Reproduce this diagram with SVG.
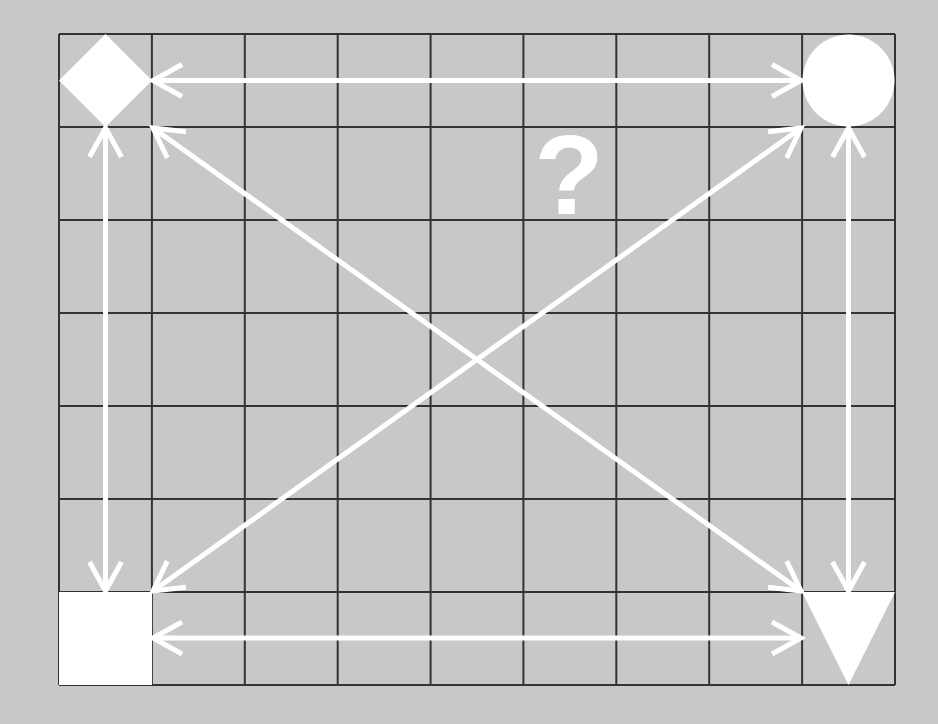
<svg xmlns="http://www.w3.org/2000/svg" width="938" height="724" viewBox="0 0 938 724">
<defs>
<style>
.grid line{stroke:#333;stroke-width:2}
.conn line{stroke:#fff;stroke-width:5;fill:none;marker-start:url(#ah);marker-end:url(#ah)}
.shape{fill:#fff}
</style>
<marker id="ah" markerUnits="userSpaceOnUse" markerWidth="40" markerHeight="40" viewBox="-34 -20 40 40" refX="0" refY="0" orient="auto-start-reverse" overflow="visible">
<path d="M-29,-16 L0,0 L-29,16" fill="none" stroke="#fff" stroke-width="5"/>
</marker>
</defs>
<rect width="938" height="724" fill="#c8c8c8"/>
<g class="grid">
<line x1="59" y1="34" x2="59" y2="685"/>
<line x1="151.9" y1="34" x2="151.9" y2="685"/>
<line x1="244.8" y1="34" x2="244.8" y2="685"/>
<line x1="337.7" y1="34" x2="337.7" y2="685"/>
<line x1="430.6" y1="34" x2="430.6" y2="685"/>
<line x1="523.4" y1="34" x2="523.4" y2="685"/>
<line x1="616.3" y1="34" x2="616.3" y2="685"/>
<line x1="709.2" y1="34" x2="709.2" y2="685"/>
<line x1="802.1" y1="34" x2="802.1" y2="685"/>
<line x1="895" y1="34" x2="895" y2="685"/>
<line x1="59" y1="34" x2="895" y2="34"/>
<line x1="59" y1="127" x2="895" y2="127"/>
<line x1="59" y1="220" x2="895" y2="220"/>
<line x1="59" y1="313" x2="895" y2="313"/>
<line x1="59" y1="406" x2="895" y2="406"/>
<line x1="59" y1="499" x2="895" y2="499"/>
<line x1="59" y1="592" x2="895" y2="592"/>
<line x1="59" y1="685" x2="895" y2="685"/>
</g>
<g id="diamond"><polygon class="shape" points="105.5,34 152,80.5 105.5,127 59,80.5"/></g>
<g id="circle"><circle class="shape" cx="848.5" cy="80.5" r="46"/></g>
<g id="square"><rect class="shape" x="59" y="592" width="93" height="93"/></g>
<g id="triangle"><polygon class="shape" points="802,592 895,592 848.5,685"/></g>
<g id="question"><text x="569" y="214" text-anchor="middle" font-family="Liberation Sans, Arial, sans-serif" font-weight="bold" font-size="114" fill="#fff">?</text></g>
<g class="conn">
<line x1="153" y1="80.5" x2="801" y2="80.5"/>
<line x1="153" y1="638" x2="801" y2="638"/>
<line x1="105.5" y1="128" x2="105.5" y2="591"/>
<line x1="848.5" y1="128" x2="848.5" y2="591"/>
<line x1="153" y1="128" x2="801" y2="591"/>
<line x1="801" y1="128" x2="153" y2="591"/>
</g>
</svg>
